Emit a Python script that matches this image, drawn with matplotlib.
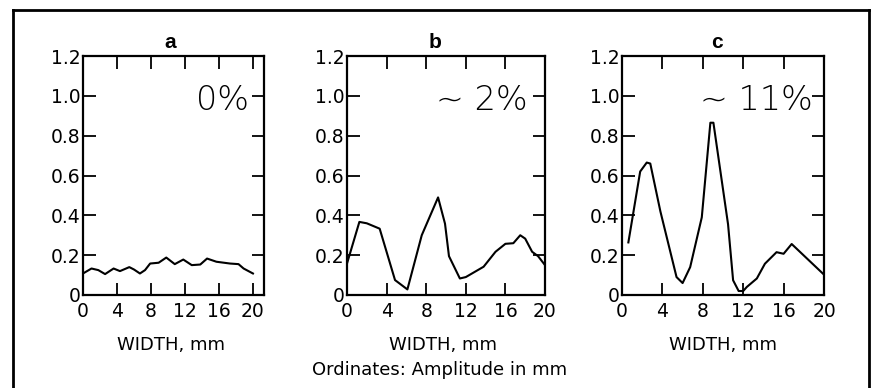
import matplotlib
matplotlib.use("Agg")
import matplotlib.pyplot as plt
from matplotlib.lines import Line2D

plt.rcParams['font.family'] = ['DejaVu Sans']

# Panel a (0%)
a_x = [0.0, 1.0, 1.8, 2.6, 3.6, 4.35, 5.45, 6.0, 6.7, 7.3, 7.9, 8.9, 9.8, 10.8, 11.8,
       12.8, 13.8, 14.6, 15.7, 17.3, 18.3, 18.9, 20.0]
a_y = [0.108, 0.133, 0.125, 0.105, 0.133, 0.12, 0.14, 0.128, 0.108, 0.125, 0.158, 0.162,
       0.188, 0.155, 0.178, 0.15, 0.153, 0.183, 0.167, 0.158, 0.155, 0.133, 0.108]

# Panel b (~2%)
b_x = [0.0, 1.25, 2.0, 3.3, 4.85, 6.1, 7.55, 9.2, 9.9, 10.3, 11.4, 12.0, 13.8, 15.0,
       16.0, 16.8, 17.5, 18.0, 18.7, 19.3, 20.0]
b_y = [0.158, 0.367, 0.36, 0.333, 0.075, 0.028, 0.30, 0.49, 0.358, 0.195, 0.083, 0.09,
       0.142, 0.217, 0.257, 0.26, 0.30, 0.283, 0.217, 0.195, 0.15]

# Panel c (~11%)
c_x = [0.63, 1.8, 2.45, 2.8, 3.8, 5.4, 6.0, 6.75, 7.9, 8.75, 9.05, 10.5, 11.0, 11.55,
       12.0, 12.35, 13.35, 14.15, 15.3, 16.0, 16.8, 19.9]
c_y = [0.264, 0.62, 0.665, 0.66, 0.42, 0.09, 0.06, 0.14, 0.39, 0.865, 0.865, 0.355,
       0.074, 0.02, 0.02, 0.04, 0.083, 0.157, 0.215, 0.207, 0.256, 0.107]

xticks = [0, 4, 8, 12, 16, 20]
xtick_labels = ["0", "4", "8", "12", "16", "20"]
yticks = [0, 0.2, 0.4, 0.6, 0.8, 1.0, 1.2]
ytick_labels = ["0", "0.2", "0.4", "0.6", "0.8", "1.0", "1.2"]

panel_titles = ["a", "b", "c"]
percent_labels = ["0%", "~ 2%", "~ 11%"]

W, H = 875, 388
fig = plt.figure(figsize=(W / 100, H / 100), dpi=100)

def fx(px):
    return px / W

def fy(py):
    return 1 - py / H

panels = [
    dict(x=a_x, y=a_y, left=83, right=264, xmax=21.3, title_x=170, lab_x=171, pct_x=19.5),
    dict(x=b_x, y=b_y, left=347, right=545, xmax=20.0, title_x=435, lab_x=443, pct_x=18.2),
    dict(x=c_x, y=c_y, left=622, right=824, xmax=20.0, title_x=717, lab_x=723, pct_x=18.9),
]
top, bottom = 56, 295

for i, p in enumerate(panels):
    ax = fig.add_axes([fx(p['left']), fy(bottom), (p['right'] - p['left']) / W,
                       (bottom - top) / H])
    ax.plot(p['x'], p['y'], color='black', lw=1.5, solid_joinstyle='round')
    ax.set_xlim(0, p['xmax'])
    ax.set_ylim(0, 1.2)
    ax.set_xticks(xticks)
    ax.set_xticklabels(xtick_labels)
    ax.set_yticks(yticks)
    ax.set_yticklabels(ytick_labels)
    ax.tick_params(direction='in', length=9, width=1.3, top=True, right=True,
                   labelsize=13.5, colors='black')
    ax.tick_params(axis='x', pad=5)
    ax.tick_params(axis='y', pad=2)
    for s in ax.spines.values():
        s.set_linewidth(1.6)
        s.set_color('black')
    ax.text(p['pct_x'], 0.975, percent_labels[i], ha='right', va='center',
            fontsize=24, fontweight='light')
    fig.text(fx(p['title_x']), fy(42), panel_titles[i], ha='center', va='center',
             fontsize=15, fontweight='bold', family=['Liberation Sans', 'DejaVu Sans'])
    fig.text(fx(p['lab_x']), fy(345), "WIDTH, mm", ha='center', va='center', fontsize=13)

fig.text(fx(440), fy(370), "Ordinates: Amplitude in mm", ha='center', va='center',
         fontsize=13)

# outer frame
lw = 2
fig.add_artist(Line2D([fx(13), fx(869)], [fy(10), fy(10)], color='black', lw=lw))
fig.add_artist(Line2D([fx(13), fx(13)], [fy(10), 0], color='black', lw=lw))
fig.add_artist(Line2D([fx(869), fx(869)], [fy(10), 0], color='black', lw=lw))

fig.savefig("out.png", dpi=100, facecolor='white')
